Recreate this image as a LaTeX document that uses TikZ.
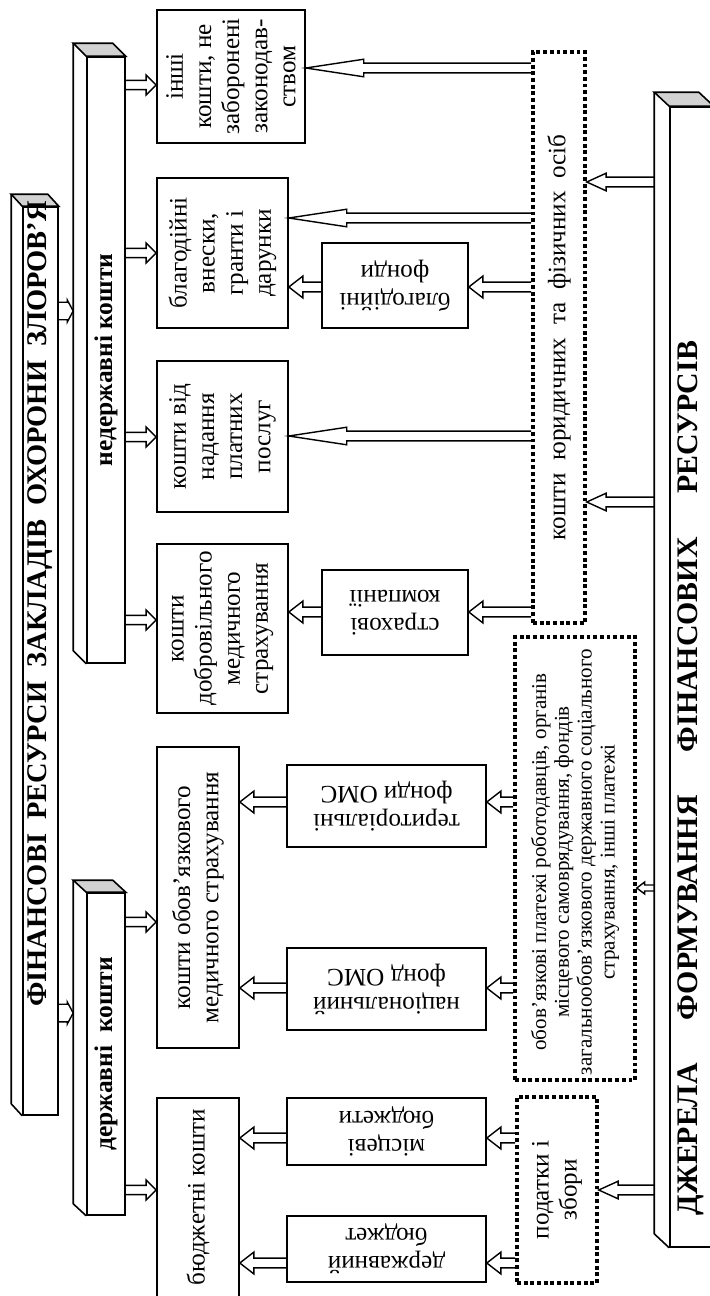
\documentclass[tikz,border=0pt]{standalone}
\usepackage{fontspec}
\setmainfont{Liberation Serif}
\usetikzlibrary{calc, fit}
\tikzset{
    box/.style={draw, line width=0.9pt, fill=white, inner sep=0pt},
    slab/.style={draw, line width=0.9pt, fill=white, inner sep=0pt},
    dotbox/.style={draw, line width=2pt, dash pattern=on 2.2pt off 1.6pt, inner sep=0pt},
    txt/.style={rotate=90, align=center, inner sep=0pt, font=\fontsize{14.3}{16}\selectfont},
    smalltxt/.style={txt, font=\fontsize{12}{13}\selectfont},
    fliptxt/.style={rotate=180, align=center, inner sep=0pt, font=\fontsize{14.3}{16}\selectfont},
    bartxt/.style={rotate=90, inner sep=0pt, font=\fontsize{14.5}{16}\selectfont\bfseries},
    headtxt/.style={rotate=90, inner sep=0pt, font=\fontsize{16.2}{19}\selectfont\bfseries},
    hollow/.style n args={3}{line width=0.8pt, to path={
        let \p1=(\tikztostart), \p2=(\tikztotarget), \n1={(\x2>\x1)*2-1} in
        (\x1,\y1+#1) -- ({\x2-\n1*#3},\y1+#1) -- ({\x2-\n1*#3},\y1+#2) -- (\x2,\y1)
        -- ({\x2-\n1*#3},\y1-#2) -- ({\x2-\n1*#3},\y1-#1) -- (\x1,\y1-#1)}},
    topfeed/.style={hollow={5pt}{6.3pt}{3.4pt}},
    feed/.style={hollow={2.6pt}{5.7pt}{5.7pt}},
    subfeed/.style={hollow={2.8pt}{6.2pt}{8pt}},
    longfeed/.style={hollow={2.8pt}{5pt}{33pt}},
    srcfeed/.style={hollow={2.8pt}{5pt}{11pt}},
    tinyfeed/.style={hollow={1.7pt}{3.4pt}{4.5pt}},
}
% side and top faces of a bar
\newcommand{\slabfaces}[3]{%
  \draw[line width=0.9pt, fill=gray!35] (#1.north west) -- ++(-#2,-#3) -- ([shift={(-#2,-#3)}]#1.north east) -- (#1.north east) -- cycle;
  \draw[line width=0.9pt] (#1.north west) ++(-#2,-#3) -- ([shift={(-#2,-#3)}]#1.south west) -- (#1.south west);
}

\begin{document}
\begin{tikzpicture}[x=0.02cm, y=-0.02cm]
    \useasboundingbox (0,0) rectangle (710,1296);

    % Bars
    \node[slab, fit={(23,207) (58,1115)}] (head) {};
    \slabfaces{head}{11}{12}
    \node[headtxt] (head-t) at (40.5,604) {ФІНАНСОВІ~~РЕСУРСИ~~ЗАКЛАДІВ~~ОХОРОНИ~~ЗЛОРОВ’Я};

    \node[slab, fit={(87,57) (125,663)}] (nonstate) {};
    \slabfaces{nonstate}{13}{13}
    \node[bartxt] (nonstate-t) at (nonstate) {недержавні кошти};

    \node[slab, fit={(87,893) (125,1215)}] (state) {};
    \slabfaces{state}{13}{12}
    \node[bartxt] (state-t) at (state) {державні~~кошти};

    \node[slab, fit={(670,107) (713,1247)}] (sources) {};
    \slabfaces{sources}{15}{14}
    \node[headtxt, font=\fontsize{17}{19}\selectfont\bfseries] (sources-t) at (691,778) {ДЖЕРЕЛА\hspace{1.45em}ФОРМУВАННЯ\hspace{1.45em}ФІНАНСОВИХ\hspace{1.45em}РЕСУРСІВ};

    % Kinds of funds
    \node[box, fit={(157,10) (305,143)}] (other) {};
    \node[txt] (other-t) at (other) {інші\\кошти, не\\заборонені\\законодав-\\ством};
    \node[box, fit={(157,178) (288,328)}] (charity) {};
    \node[txt] (charity-t) at (charity) {благодійні\\внески,\\гранти і\\дарунки};
    \node[box, fit={(157,361) (288,512)}] (paid) {};
    \node[txt] (paid-t) at (paid) {кошти від\\надання\\платних\\послуг};
    \node[box, fit={(157,544) (288,713)}] (vol) {};
    \node[txt] (vol-t) at (vol) {кошти\\добровільного\\медичного\\страхування};
    \node[box, fit={(157,747) (239,1048)}] (oms) {};
    \node[txt] (oms-t) at (oms) {кошти обов’язкового\\медичного страхування};
    \node[box, fit={(157,1098) (239,1305)}] (budget) {};
    \node[txt] (budget-t) at (198,1197) {бюджетні кошти};

    % Intermediaries
    \node[box, fit={(322,243) (468,328)}] (fund) {};
    \node[fliptxt] (fund-t) at (fund) {благодійні\\фонди};
    \node[box, fit={(322,570) (468,655)}] (insur) {};
    \node[fliptxt] (insur-t) at (insur) {страхові\\компанії};
    \node[box, fit={(287,765) (486,847)}] (terr) {};
    \node[fliptxt] (terr-t) at (terr) {територіальні\\фонди ОМС};
    \node[box, fit={(287,948) (486,1030)}] (natl) {};
    \node[fliptxt] (natl-t) at (natl) {національний\\фонд ОМС};
    \node[box, fit={(287,1098) (486,1165)}] (local) {};
    \node[fliptxt] (local-t) at (local) {місцеві\\бюджети};
    \node[box, fit={(287,1216) (486,1282)}] (stbud) {};
    \node[fliptxt] (stbud-t) at (stbud) {державний\\бюджет};

    % Sources
    \node[dotbox, fit={(533,52) (585,623)}] (persons) {};
    \node[txt] (persons-t) at (persons) {кошти~~юридичних~~та~~фізичних~~осіб};
    \node[dotbox, fit={(515,637) (635,1080)}] (mand) {};
    \node[smalltxt] (mand-t) at (575,862) {обов’язкові платежі роботодавців, органів\\місцевого самоврядування, фондів\\загальнообов’язкового державного соціального\\страхування, інші платежі};
    \node[dotbox, fit={(517,1097) (597,1283)}] (tax) {};
    \node[txt] (tax-t) at (tax) {податки і\\збори};

    % Connections
    \draw[topfeed] (head.east |- 0,311) to ([xshift=-0.26cm]nonstate.west);
    \draw[topfeed] (head.east |- 0,1013) to ([xshift=-0.26cm]state.west);

    \draw[feed] (nonstate.east |- 0,85) to (other.west);
    \draw[feed] (nonstate.east |- 0,253) to (charity.west);
    \draw[feed] (nonstate.east |- 0,437) to (paid.west);
    \draw[feed] (nonstate.east |- 0,620) to (vol.west);
    \draw[feed] (state.east |- 0,922) to (oms.west);
    \draw[feed] (state.east |- 0,1190) to (budget.west);

    \draw[subfeed] (fund.west |- 0,287) to (charity.east);
    \draw[subfeed] (insur.west |- 0,612) to (vol.east);
    \draw[subfeed] (terr.west |- 0,802) to (oms.east);
    \draw[subfeed] (natl.west |- 0,988) to (oms.east);
    \draw[subfeed] (local.west |- 0,1138) to (budget.east);
    \draw[subfeed] (stbud.west |- 0,1263) to (budget.east);

    \draw[longfeed] (persons.west |- 0,68) to (other.east);
    \draw[longfeed] (persons.west |- 0,218) to (charity.east);
    \draw[subfeed] (persons.west |- 0,287) to (fund.east);
    \draw[longfeed] (persons.west |- 0,436) to (paid.east);
    \draw[subfeed] (persons.west |- 0,612) to (insur.east);
    \draw[subfeed] (mand.west |- 0,802) to (terr.east);
    \draw[subfeed] (mand.west |- 0,988) to (natl.east);
    \draw[subfeed] (tax.west |- 0,1138) to (local.east);
    \draw[subfeed] (tax.west |- 0,1263) to (stbud.east);

    \draw[srcfeed] ([xshift=-0.3cm]sources.west |- 0,182) to (persons.east);
    \draw[srcfeed] ([xshift=-0.3cm]sources.west |- 0,502) to (persons.east);
    \draw[tinyfeed] ([xshift=-0.3cm]sources.west |- 0,888) to (mand.east);
    \draw[srcfeed] ([xshift=-0.3cm]sources.west |- 0,1190) to (tax.east);
\end{tikzpicture}
\end{document}
